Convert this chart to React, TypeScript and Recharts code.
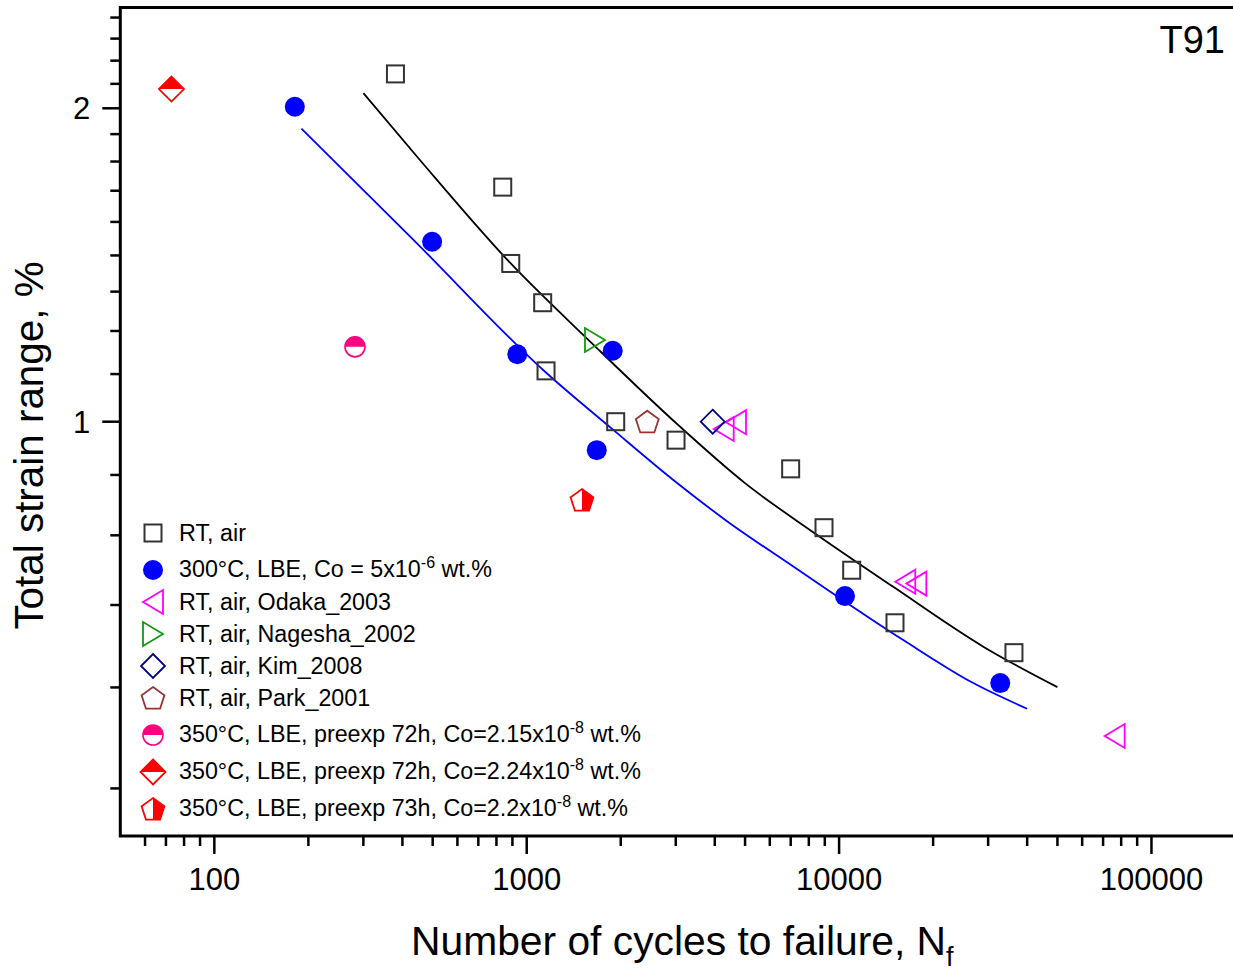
import React from 'react';
import { ScatterChart, Scatter, XAxis, YAxis, ReferenceArea, Legend } from 'recharts';

const FONT = 'Arial, "Liberation Sans", Helvetica, sans-serif';

// ---------- data (cycles to failure N, total strain range %) ----------
const rtAirN = [380, 838, 889, 1125, 1153, 1927, 3006, 6998, 8948, 10972, 15100, 36290];
const rtAirStrain = [2.158, 1.68, 1.419, 1.301, 1.119, 1.0, 0.96, 0.901, 0.791, 0.72, 0.641, 0.6];

const lbe300N = [181, 498, 933, 1885, 1676, 10445, 32810];
const lbe300Strain = [2.007, 1.489, 1.161, 1.17, 0.939, 0.68, 0.561];

const odakaN = [4272, 4677, 16290, 17670, 76240];
const odakaStrain = [0.984, 0.999, 0.702, 0.699, 0.499];

const nageshaN = [1654];
const nageshaStrain = [1.198];

const kimN = [3939];
const kimStrain = [1.0];

const parkN = [2432];
const parkStrain = [1.0];

const lbe350aN = [282];
const lbe350aStrain = [1.18];

const lbe350bN = [72.9];
const lbe350bStrain = [2.087];

const lbe350cN = [1503];
const lbe350cStrain = [0.841];

// fitted curves
const blackFitN = [300, 455, 889, 1615, 3096, 4998, 8375, 14910, 28950, 50000];
const blackFitStrain = [2.068, 1.784, 1.419, 1.19, 0.989, 0.873, 0.781, 0.694, 0.608, 0.556];

const blueFitN = [190, 434, 1159, 1893, 2946, 4367, 7135, 16050, 26890, 40000];
const blueFitStrain = [1.912, 1.495, 1.113, 0.982, 0.879, 0.803, 0.726, 0.617, 0.561, 0.53];

// ---------- ticks ----------
const xMajorTicks = [100, 1000, 10000, 100000];
const xMinorTicks = [60, 70, 80, 90, 200, 300, 400, 500, 600, 700, 800, 900, 2000, 3000, 4000, 5000, 6000, 7000, 8000, 9000, 20000, 30000, 40000, 50000, 60000, 70000, 80000, 90000, 200000];
const yMajorTicks = [1, 2];
const yMinorTicks = [0.4444, 0.5556, 0.6667, 0.7778, 0.8889, 1.1111, 1.2222, 1.3333, 1.4444, 1.5556, 1.6667, 1.7778, 1.8889, 2.1111, 2.2222, 2.3333, 2.4444];

// ---------- legend labels ----------
const legendLabels = [
  'RT, air',
  '300°C, LBE, Co = 5x10',
  'RT, air, Odaka_2003',
  'RT, air, Nagesha_2002',
  'RT, air, Kim_2008',
  'RT, air, Park_2001',
  '350°C, LBE, preexp 72h, Co=2.15x10',
  '350°C, LBE, preexp 72h, Co=2.24x10',
  '350°C, LBE, preexp 73h, Co=2.2x10',
];
const legendSups = ['', '-6', '', '', '', '', '-8', '-8', '-8'];
const legendTails = ['', ' wt.%', '', '', '', '', ' wt.%', ' wt.%', ' wt.%'];

const zip = (xs: number[], ys: number[]) => xs.map((x, i) => ({ x, y: ys[i] }));

// ---------- marker shapes ----------
const pentPts = (cx: number, cy: number, R: number) =>
  [0, 1, 2, 3, 4].map((k) => {
    const a = (-90 + 72 * k) * Math.PI / 180;
    return [cx + R * Math.cos(a), cy + R * Math.sin(a)];
  });

const SquareMark = ({ cx, cy }: any) => (
  <rect x={cx - 8.5} y={cy - 8.5} width={17} height={17} fill="none" stroke="#333" strokeWidth={2} />
);
const CircleMark = ({ cx, cy }: any) => <circle cx={cx} cy={cy} r={10} fill="#0000FF" />;
const LeftTriMark = ({ cx, cy }: any) => (
  <polygon points={`${cx - 10},${cy} ${cx + 10},${cy - 12} ${cx + 10},${cy + 12}`} fill="none" stroke="#FF00FF" strokeWidth={1.8} />
);
const RightTriMark = ({ cx, cy }: any) => (
  <polygon points={`${cx + 10},${cy} ${cx - 10},${cy - 12} ${cx - 10},${cy + 12}`} fill="none" stroke="#129912" strokeWidth={1.8} />
);
const DiamondMark = ({ cx, cy }: any) => (
  <polygon points={`${cx},${cy - 12} ${cx + 12},${cy} ${cx},${cy + 12} ${cx - 12},${cy}`} fill="none" stroke="#000080" strokeWidth={1.8} />
);
const PentagonMark = ({ cx, cy }: any) => (
  <polygon points={pentPts(cx, cy + 1, 12).map((p) => p.join(',')).join(' ')} fill="none" stroke="#993333" strokeWidth={1.8} />
);
const HalfCircleMark = ({ cx, cy }: any) => (
  <g>
    <circle cx={cx} cy={cy} r={10} fill="#fff" stroke="#FF0080" strokeWidth={1.6} />
    <path d={`M ${cx - 10} ${cy} A 10 10 0 0 1 ${cx + 10} ${cy} Z`} fill="#FF0080" />
  </g>
);
const HalfDiamondMark = ({ cx, cy }: any) => (
  <g>
    <polygon points={`${cx},${cy - 12.5} ${cx + 12.5},${cy} ${cx},${cy + 12.5} ${cx - 12.5},${cy}`} fill="#fff" stroke="#FF0000" strokeWidth={1.8} />
    <polygon points={`${cx},${cy - 12.5} ${cx + 12.5},${cy} ${cx - 12.5},${cy}`} fill="#FF0000" />
  </g>
);
const HalfPentagonMark = ({ cx, cy }: any) => {
  const p = pentPts(cx, cy + 1, 12);
  const right = [p[0], p[1], p[2], [cx, p[2][1]]];
  return (
    <g>
      <polygon points={p.map((q) => q.join(',')).join(' ')} fill="#fff" stroke="#FF0000" strokeWidth={1.8} />
      <polygon points={right.map((q) => q.join(',')).join(' ')} fill="#FF0000" />
    </g>
  );
};

const markShapes = [
  SquareMark, CircleMark, LeftTriMark, RightTriMark, DiamondMark, PentagonMark,
  HalfCircleMark, HalfDiamondMark, HalfPentagonMark,
];

const seriesData = [
  zip(rtAirN, rtAirStrain),
  zip(lbe300N, lbe300Strain),
  zip(odakaN, odakaStrain),
  zip(nageshaN, nageshaStrain),
  zip(kimN, kimStrain),
  zip(parkN, parkStrain),
  zip(lbe350aN, lbe350aStrain),
  zip(lbe350bN, lbe350bStrain),
  zip(lbe350cN, lbe350cStrain),
];

// ---------- ticks ----------
const XTick = (props: any) => {
  const { x, y, payload } = props;
  const major = xMajorTicks.includes(payload.value);
  return (
    <g>
      <line x1={x} y1={y} x2={x} y2={y + (major ? 18 : 10)} stroke="#000" strokeWidth={2.5} />
      {major && (
        <text x={x} y={y + 54} textAnchor="middle" fontSize={31} fontFamily={FONT} fill="#000">
          {payload.value}
        </text>
      )}
    </g>
  );
};

const YTick = (props: any) => {
  const { x, y, payload } = props;
  const major = yMajorTicks.includes(payload.value);
  return (
    <g>
      <line x1={x - (major ? 18 : 10)} y1={y} x2={x} y2={y} stroke="#000" strokeWidth={2.5} />
      {major && (
        <text x={x - 30} y={y + 11} textAnchor="end" fontSize={31} fontFamily={FONT} fill="#000">
          {payload.value}
        </text>
      )}
    </g>
  );
};

const XTitle = () => (
  <text x={411} y={955} fontSize={40.8} fontFamily={FONT} fill="#000">
    Number of cycles to failure, N<tspan fontSize={27} dy={11}>f</tspan>
  </text>
);

const YTitle = () => (
  <text x={43} y={445.5} transform="rotate(-90 43 445.5)" textAnchor="middle" fontSize={40.4} fontFamily={FONT} fill="#000">
    Total strain range, %
  </text>
);

const T91 = () => (
  <text x={1225} y={53} textAnchor="end" fontSize={38} fontFamily={FONT} fill="#000">
    T91
  </text>
);

const LegendBox = () => (
  <div style={{ fontFamily: FONT, color: '#000' }}>
    {legendLabels.map((label, i) => {
      const Shape = markShapes[i];
      const sup = legendSups[i];
      return (
        <div key={i} style={{ display: 'flex', alignItems: 'center', height: 32, marginTop: sup ? 5 : 0 }}>
          <svg width={26} height={32} style={{ overflow: 'visible', flex: 'none' }}>
            <Shape cx={13} cy={16} />
          </svg>
          <span style={{ marginLeft: 13, fontSize: 23.3, lineHeight: '32px', whiteSpace: 'nowrap' }}>
            {label}
            {sup && <span style={{ fontSize: 16, position: 'relative', top: -9 }}>{sup}</span>}
            {legendTails[i]}
          </span>
        </div>
      );
    })}
  </div>
);

export default function App() {
  return (
    <div style={{ position: 'absolute', left: 0, top: 0, width: 1233, height: 971, overflow: 'hidden', background: '#fff' }}>
      <ScatterChart width={1260} height={971} margin={{ top: 7.4, right: 14.5, bottom: 75, left: 0 }}>
        <XAxis
          type="number"
          dataKey="x"
          scale="log"
          domain={[50, 200000]}
          allowDataOverflow
          ticks={[...xMajorTicks, ...xMinorTicks]}
          tick={XTick}
          tickLine={false}
          axisLine={false}
          tickSize={0}
          tickMargin={0}
          interval={0}
          height={60}
          label={XTitle}
        />
        <YAxis
          type="number"
          dataKey="y"
          scale="log"
          domain={[0.4, 2.5]}
          allowDataOverflow
          ticks={[...yMajorTicks, ...yMinorTicks]}
          tick={YTick}
          tickLine={false}
          axisLine={false}
          tickSize={0}
          tickMargin={0}
          interval={0}
          width={120.3}
          label={YTitle}
        />
        <ReferenceArea x1={50} x2={200000} y1={0.4} y2={2.5} fill="none" fillOpacity={0} stroke="#000" strokeWidth={3} label={T91} />
        <Scatter
          data={zip(blackFitN, blackFitStrain)}
          line={{ stroke: '#000', strokeWidth: 1.8 }}
          lineJointType="monotoneX"
          shape={() => <g />}
          legendType="none"
          isAnimationActive={false}
        />
        <Scatter
          data={zip(blueFitN, blueFitStrain)}
          line={{ stroke: '#0000FF', strokeWidth: 1.8 }}
          lineJointType="monotoneX"
          shape={() => <g />}
          legendType="none"
          isAnimationActive={false}
        />
        {seriesData.map((d, i) => {
          const Shape = markShapes[i];
          return (
            <Scatter
              key={i}
              name={legendLabels[i]}
              data={d}
              shape={(p: any) => <Shape cx={p.cx} cy={p.cy} />}
              isAnimationActive={false}
            />
          );
        })}
        <Legend
          layout="horizontal"
          verticalAlign="middle"
          align="center"
          wrapperStyle={{ position: 'absolute', left: 140, top: 517, width: 560, height: 310 }}
          content={() => <LegendBox />}
        />
      </ScatterChart>
    </div>
  );
}
